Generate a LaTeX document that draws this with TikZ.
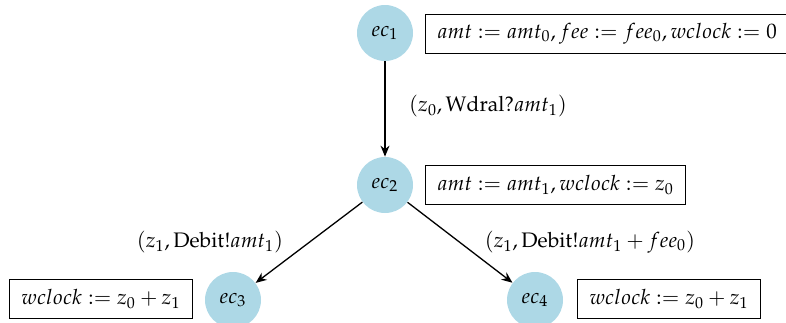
\documentclass[tikz,border=0pt]{standalone}
\usepackage[T1]{fontenc}
\usepackage{mathpazo}
\usetikzlibrary{arrows.meta}
\definecolor{nodeblue}{RGB}{173,216,230}
\tikzset{
  state/.style={circle,fill=nodeblue,minimum size=28pt,inner sep=0pt},
  assign/.style={draw,line width=0.5pt,minimum height=19.5pt,inner xsep=6pt,inner ysep=2pt},
  arr/.style={-{Stealth[length=5.5pt,width=4.5pt]},line width=0.65pt},
}
\begin{document}
\begin{tikzpicture}[x=0.5pt,y=-0.5pt,font=\fontsize{10.5}{12.5}\selectfont]
\useasboundingbox (0,0) rectangle (786,322);
\node[state] (ec1) at (385,33) {$ec_1$};
\node[assign,anchor=west] (b1) at (425,33.5) {$amt := amt_0, fee := fee_0, wclock := 0$};
\node[state] (ec2) at (385,185) {$ec_2$};
\node[assign,anchor=west] (b2) at (425,185) {$amt := amt_1, wclock := z_0$};
\node[state] (ec3) at (233,300) {$ec_3$};
\node[assign,anchor=east] (b3) at (193,299) {$wclock := z_0 + z_1$};
\node[state] (ec4) at (535,300) {$ec_4$};
\node[assign,anchor=west] (b4) at (577,299) {$wclock := z_0 + z_1$};
\draw[arr] (ec1) -- (ec2);
\draw[arr] (ec2) -- (ec3);
\draw[arr] (ec2) -- (ec4);
\node (l1) at (488,106) {$(z_0, \mathrm{Wdral?}amt_1)$};
\node (l2) at (210,242) {$(z_1, \mathrm{Debit!}amt_1)$};
\node (l3) at (590,242) {$(z_1, \mathrm{Debit!}amt_1 + fee_0)$};
\end{tikzpicture}
\end{document}
